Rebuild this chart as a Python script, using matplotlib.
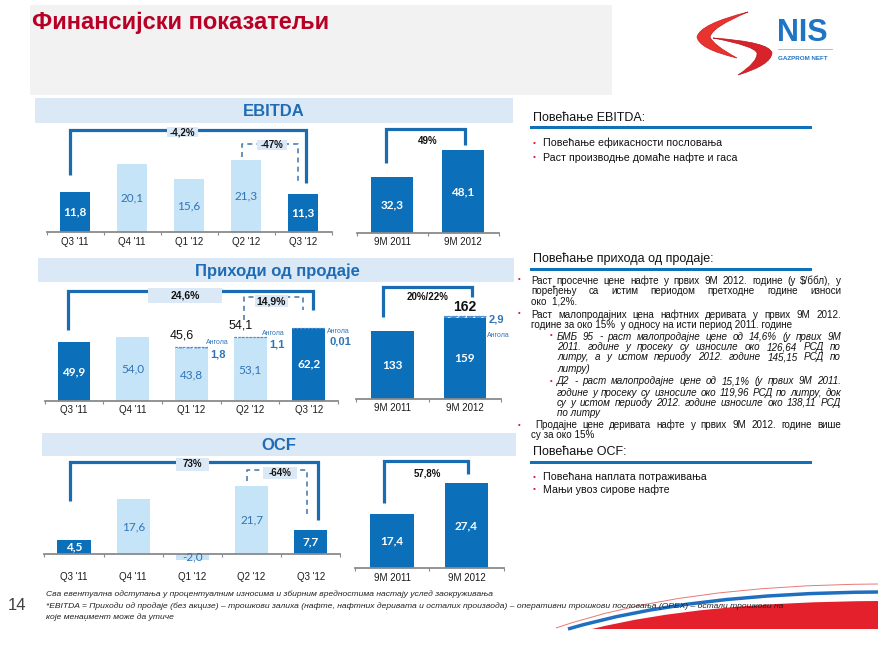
import matplotlib
matplotlib.use('Agg')
import matplotlib.pyplot as plt
import matplotlib.patches as patches
from matplotlib.path import Path

plt.rcParams['font.family'] = ['Liberation Sans', 'DejaVu Sans']

# ---- data ----
quarters = ["Q3 '11", "Q4 '11", "Q1 '12", "Q2 '12", "Q3 '12"]
periods = ["9M 2011", "9M 2012"]
dark_q = [True, False, False, False, True]
dark_9m = [True, True]

ebitda_q = [11.8, 20.1, 15.6, 21.3, 11.3]
ebitda_9m = [32.3, 48.1]

sales_q = [49.9, 54.0, 43.8, 53.1, 62.2]
sales_q_angola = [0, 0, 1.8, 1.1, 0.01]
sales_q_total = [None, None, 45.6, 54.1, None]
sales_9m = [133, 159]
sales_9m_angola = [0, 2.9]
sales_9m_total = [None, 162]

ocf_q = [4.5, 17.6, -2.0, 21.7, 7.7]
ocf_9m = [17.4, 27.4]

ebitda_changes = ["-4,2%", "-47%", "49%"]
sales_changes = ["24,6%", "14,9%", "20%/22%"]
ocf_changes = ["73%", "-64%", "57,8%"]

# ---- colours ----
DARK = '#0b6fba'
LIGHT = '#c6e4f8'
BAND = '#dbe9f7'
LINE = '#1a6cb2'
DASH = '#4d7eb0'
NUM_BLUE = '#2f74b7'
TITLE_BLUE = '#1f6cb5'
RED = '#b80026'
BULLET_RED = '#e0102f'
AXIS = '#8a8a8a'

W, H = 892, 654
fig = plt.figure(figsize=(W / 100, H / 100), dpi=100)
bg = fig.add_axes([0, 0, 1, 1])
bg.set_xlim(0, W)
bg.set_ylim(H, 0)
bg.axis('off')
renderer = fig.canvas.get_renderer()


def fmt(v, dec=1):
    return f"{v:.{dec}f}".replace('.', ',')


def make_chart(c0, step, base, ppu, n, ylo, yhi):
    # axes whose data units map onto the slide pixels
    left = c0 - 0.5 * step
    bot = base - ylo * ppu
    top = base - yhi * ppu
    ax = fig.add_axes([left / W, 1 - bot / H, n * step / W, (bot - top) / H])
    ax.set_xlim(-0.5, n - 0.5)
    ax.set_ylim(ylo, yhi)
    ax.set_axis_off()
    ax.patch.set_alpha(0)
    ax.plot([-0.5, n - 0.5], [0, 0], color=AXIS, lw=1.3, clip_on=False, zorder=5)
    ax.vlines([i - 0.5 for i in range(n + 1)], -3 / ppu, 0, color=AXIS, lw=0.8,
              clip_on=False)
    ax.ppu = ppu
    return ax


def draw_bars(ax, values, dark, labels, width, lab_px, dec=1):
    x = list(range(len(values)))
    cols = [DARK if d else LIGHT for d in dark]
    ax.bar(x, values, width=width, color=cols, zorder=2)
    for i, v in enumerate(values):
        if dark[i]:
            ax.text(i, v / 2, fmt(v, dec), ha='center', va='center', color='white',
                    fontsize=8.5, fontweight='bold', family=['Lato', 'Liberation Sans'], zorder=6)
        else:
            ax.text(i, v / 2, fmt(v, dec), ha='center', va='center', color=NUM_BLUE,
                    fontsize=8.5, family=['Lato', 'Liberation Sans'], zorder=6)
        ax.text(i, -lab_px / ax.ppu, labels[i], ha='center', va='center', fontsize=7,
                color='#1a1a1a', clip_on=False)


def draw_angola(ax, values, extra, dark, width):
    x = list(range(len(values)))
    cols = ['#4a97d6' if d else '#9ccbee' for d in dark]
    ax.bar(x, extra, bottom=values, width=width, color=cols, hatch='////',
           edgecolor='white', lw=0, zorder=3)
    for i, e in enumerate(extra):
        if e > 0:
            ax.plot([i - width / 2, i + width / 2], [values[i] + e] * 2,
                    color='#4f8fcf', lw=0.9, ls=(0, (2, 1)), zorder=4)


def bracket(ax, pts, label, lab_xy, box=None, dashed=False, fs=7):
    xs, ys = zip(*pts)
    if dashed:
        ax.plot(xs, ys, color=DASH, lw=1.2, ls=(0, (3, 2.5)), clip_on=False, zorder=4)
    else:
        ax.plot(xs, ys, color=LINE, lw=2.3, clip_on=False, zorder=4,
                solid_joinstyle='miter', solid_capstyle='butt')
    if box is not None:
        bw, bh = box
        ax.add_patch(patches.Rectangle((lab_xy[0] - bw / 2, lab_xy[1] - bh / 2), bw, bh,
                                       fc=BAND, ec='none', clip_on=False, zorder=5))
    ax.text(lab_xy[0], lab_xy[1], label, ha='center', va='center', fontsize=fs,
            fontweight='bold', color='#111111', zorder=6, clip_on=False)


# ---- header ----
bg.add_patch(patches.Rectangle((30, 5), 582, 90, fc='#f2f2f2', ec='none'))
bg.text(32, 29, 'Финансијски показатељи', color=RED, fontsize=17, fontweight='bold',
        ha='left', va='baseline')

# logo
S = [Path.MOVETO] + [Path.CURVE3] * 8
top_arm = Path([(748, 12), (700, 24), (697, 37), (699, 49), (737, 58),
                (713, 45), (710, 37), (712, 27), (748, 12)], S)
low_arm = Path([(713, 38), (770, 42), (772, 53), (771, 65), (738, 75),
                (758, 62), (757, 53), (755, 46), (713, 38)], S)
bg.add_patch(patches.PathPatch(top_arm, fc='#e8332f', ec='#c81d22', lw=0.5))
bg.add_patch(patches.PathPatch(low_arm, fc='#d8232a', ec='#b8161c', lw=0.5))
bg.text(777, 41, 'NIS', color='#1f74c4', fontsize=22, fontweight='bold', va='baseline')
bg.plot([778, 832], [49, 49], color='#8cb8e4', lw=0.6)
bg.text(778, 59, 'GAZPROM NEFT', color='#1f74c4', fontsize=4.5, fontweight='bold', va='center')

# ---- section bands ----
for x0, y0, w, h, title, tx in [(35, 98, 478, 25, 'EBITDA', 274),
                                (38, 258, 476, 24, 'Приходи од продаје', 277),
                                (42, 433, 474, 23, 'OCF', 279)]:
    bg.add_patch(patches.Rectangle((x0, y0), w, h, fc=BAND, ec='none'))
    bg.text(tx, y0 + h / 2 + 1, title, ha='center', va='center', color=TITLE_BLUE,
            fontsize=12, fontweight='bold')

# ---- EBITDA ----
ax = make_chart(75, 57, 232, 3.37, 5, 0, 32)
draw_bars(ax, ebitda_q, dark_q, quarters, 0.53, 10)
bracket(ax, [(-0.09, 16.9), (-0.09, 30.3), (4.05, 30.3), (4.05, 14.5)],
        ebitda_changes[0], (1.89, 29.6), box=(0.54, 3.0))
bracket(ax, [(2.93, 22.3), (2.93, 26.1), (3.91, 26.1), (3.91, 14.5)],
        ebitda_changes[1], (3.46, 25.8), box=(0.53, 3.0), dashed=True)

ax = make_chart(392, 71, 233, 1.72, 2, 0, 63)
draw_bars(ax, ebitda_9m, dark_9m, periods, 0.58, 9)
bracket(ax, [(-0.085, 40.7), (-0.085, 60.5), (1.03, 60.5), (1.03, 51.2)],
        ebitda_changes[2], (0.5, 53.2))

# ---- sales ----
ax = make_chart(74, 58.7, 401, 1.18, 5, 0, 98)
draw_bars(ax, sales_q, dark_q, quarters, 0.56, 9)
draw_angola(ax, sales_q, sales_q_angola, dark_q, 0.56)
bracket(ax, [(-0.10, 60.2), (-0.10, 93.2), (4.07, 93.2), (4.07, 77.1)],
        sales_changes[0], (1.89, 89.4), box=(1.26, 12.7), fs=7.5)
bracket(ax, [(2.90, 68.6), (2.90, 88.1), (3.90, 88.1), (3.90, 77.1)],
        sales_changes[1], (3.36, 84.7), box=(0.56, 10.2), dashed=True, fs=7.5)
ang_pos = [None, None, (2.44, 50.0, 2.45, 39.8), (3.39, 56.8, 3.46, 48.3),
           (4.50, 59.3, 4.53, 50.8)]
for i, t in enumerate(sales_q_total):
    if t is not None:
        ax.text(i - 0.16, t + 9.5, fmt(t), ha='center', va='center', fontsize=9, color='#111111')
for i, e in enumerate(sales_q_angola):
    if e > 0:
        xa, ya, xv, yv = ang_pos[i]
        ax.text(xa, ya, 'Ангола', ha='center', va='center', fontsize=5, color=NUM_BLUE)
        ax.text(xv, yv, fmt(e, 2 if e < 0.1 else 1), ha='center', va='center',
                fontsize=8, fontweight='bold', color=NUM_BLUE)

ax = make_chart(392.5, 72.5, 399, 0.51, 2, 0, 225)
draw_bars(ax, sales_9m, dark_9m, periods, 0.59, 9, dec=0)
draw_angola(ax, sales_9m, sales_9m_angola, dark_9m, 0.59)
bracket(ax, [(-0.13, 160.8), (-0.13, 219.6), (1.10, 219.6), (1.10, 200)],
        sales_changes[2], (0.49, 200))
for i, t in enumerate(sales_9m_total):
    if t is not None:
        ax.text(i, t + 18, fmt(t, 0), ha='center', va='center', fontsize=10,
                fontweight='bold', color='#111111')
for i, e in enumerate(sales_9m_angola):
    if e > 0:
        ax.text(i + 0.43, sales_9m[i] + e - 6, fmt(e), ha='center', va='center',
                fontsize=8, fontweight='bold', color=NUM_BLUE)
        ax.text(i + 0.46, sales_9m[i] + e - 38, 'Ангола', ha='center', va='center',
                fontsize=5, color=NUM_BLUE)

# ---- OCF ----
ax = make_chart(74, 59.2, 554, 3.12, 5, -3, 31)
draw_bars(ax, ocf_q, dark_q, quarters, 0.56, 23)
bracket(ax, [(-0.07, 17), (-0.07, 29.5), (4.12, 29.5), (4.12, 10.9)],
        ocf_changes[0], (2.0, 28.7), box=(0.56, 4.2))
bracket(ax, [(2.92, 23.4), (2.92, 26.9), (3.94, 26.9), (3.94, 11.9)],
        ocf_changes[1], (3.48, 26.0), box=(0.57, 3.85), dashed=True)

ax = make_chart(392, 74.5, 568, 3.1, 2, 0, 36)
draw_bars(ax, ocf_9m, dark_9m, periods, 0.59, 10)
bracket(ax, [(-0.11, 21), (-0.11, 34.5), (1.02, 34.5), (1.02, 30.3)],
        ocf_changes[2], (0.48, 30.4))

# ---- commentary ----
for ty, uy, title in [(118, 127, 'Повећање EBITDA:'),
                      (259, 269, 'Повећање прихода од продаје:'),
                      (452, 462, 'Повећање OCF:')]:
    bg.text(533, ty, title, fontsize=9, va='center', color='#111111')
    bg.add_patch(patches.Rectangle((530, uy - 1.5), 282, 3, fc='#0e72b8', ec='none'))

for y, s in [(143, 'Повећање ефикасности пословања'), (158, 'Раст производње домаће нафте и гаса'),
             (477, 'Повећана наплата потраживања'), (490, 'Мањи увоз сирове нафте')]:
    bg.text(533, y, '•', fontsize=6, va='center', color=BULLET_RED)
    bg.text(543, y, s, fontsize=7.7, va='center', color='#111111')


def text_width(s, **kw):
    t = bg.text(0, 0, s, **kw)
    w = t.get_window_extent(renderer).width
    t.remove()
    return w


notes = [
    (531, 518, False, True, 280, "Раст просечне цене нафте у првих 9М 2012. године (у $/ббл), у"),
    (531, None, False, True, 290, "поређењу са истим периодом претходне године износи"),
    (531, None, False, False, 301, "око  1,2%."),
    (531, 518, False, True, 314, "Раст малопродајних цена нафтних деривата у првих 9М 2012."),
    (531, None, False, False, 324, "године за око 15%  у односу на исти период 2011. године"),
    (557, 550, True, True, 336, "БМБ 95 - раст малопродајне цене од 14,6% (у првих 9М"),
    (557, None, True, True, 347, "2011. године у просеку су износиле око 126,64 РСД по"),
    (557, None, True, True, 357, "литру, а у истом периоду 2012. године 145,15 РСД по"),
    (557, None, True, False, 368, "литру)"),
    (557, 550, True, True, 381, "Д2 - раст малопродајне цене од 15,1% (у првих 9М 2011."),
    (557, None, True, True, 392, "године у просеку су износиле око 119,96 РСД по литру, док"),
    (557, None, True, True, 402, "су у истом периоду 2012. године износиле око 138,11 РСД"),
    (557, None, True, False, 412, "по литру"),
    (535, 518, False, True, 425, "Продајне цене деривата нафте у првих 9М 2012. године више"),
    (531, None, False, False, 435, "су за око 15%"),
]
X_RIGHT = 841
NOTE_FS = 7.1
for x0, bx, ital, just, y, s in notes:
    style = 'italic' if ital else 'normal'
    yb = y + 3.5  # baseline of the line
    if bx is not None:
        bg.text(bx, y, '•', fontsize=5.5, va='center', color=BULLET_RED)
    words = s.split()
    if just and len(words) > 1:
        ws = [text_width(w, fontsize=NOTE_FS, style=style) for w in words]
        gap = (X_RIGHT - x0 - sum(ws)) / (len(words) - 1)
        x = x0
        for w, wd in zip(words, ws):
            bg.text(x, yb, w, fontsize=NOTE_FS, style=style, va='baseline', color='#111111')
            x += wd + gap
    else:
        bg.text(x0, yb, s, fontsize=NOTE_FS, style=style, va='baseline', color='#111111')

# ---- footer ----
foot = ["Сва евентуална одступања у процентуалним износима и збирним вредностима настају услед заокруживања",
        "*EBITDA = Приходи од продаје (без акцизе) – трошкови залиха (нафте, нафтних деривата и осталих "
        "производа) – оперативни трошкови пословања (OPEX) – остали трошкови на",
        "које менаџмент може да утиче"]
ffam = ['Liberation Sans Narrow', 'Liberation Sans', 'DejaVu Sans']
fsize = 6 * 737 / text_width(foot[1], fontsize=6, style='italic', family=ffam)

# decorative swoosh, bottom right
red_fill = Path([(592, 629), (700, 602), (878, 601), (878, 629), (592, 629)],
                [Path.MOVETO, Path.CURVE3, Path.CURVE3, Path.LINETO, Path.CLOSEPOLY])
bg.add_patch(patches.PathPatch(red_fill, fc='#e3202c', ec='none'))
blue_arc = Path([(568, 629), (690, 593), (878, 592)], [Path.MOVETO, Path.CURVE3, Path.CURVE3])
bg.add_patch(patches.PathPatch(blue_arc, fc='none', ec='#1f6fc0', lw=2.5))
thin_arc = Path([(556, 628), (680, 585), (878, 584)], [Path.MOVETO, Path.CURVE3, Path.CURVE3])
bg.add_patch(patches.PathPatch(thin_arc, fc='none', ec='#e87878', lw=0.7))

for y, s in zip([594, 606, 617], foot):
    bg.text(46, y, s, fontsize=fsize, style='italic', family=ffam, va='center', color='#222222')
bg.text(8, 606, '14', fontsize=12, va='center', color='#404040')

fig.savefig('out.png', dpi=100)
